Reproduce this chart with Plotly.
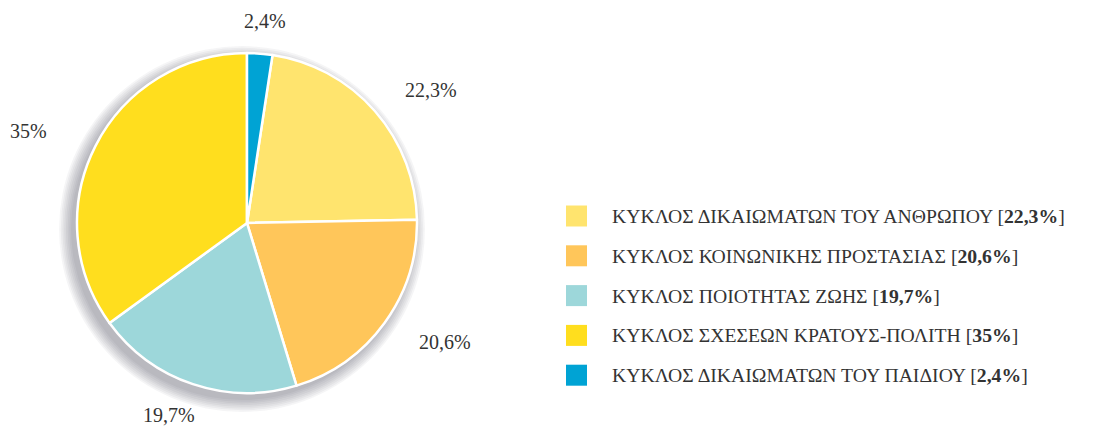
import math
import plotly.graph_objects as go

# ── DATA ──
categories = [
    "ΚΥΚΛΟΣ ΔΙΚΑΙΩΜΑΤΩΝ ΤΟΥ ΑΝΘΡΩΠΟΥ",
    "ΚΥΚΛΟΣ ΚΟΙΝΩΝΙΚΗΣ ΠΡΟΣΤΑΣΙΑΣ",
    "ΚΥΚΛΟΣ ΠΟΙΟΤΗΤΑΣ ΖΩΗΣ",
    "ΚΥΚΛΟΣ ΣΧΕΣΕΩΝ ΚΡΑΤΟΥΣ-ΠΟΛΙΤΗ",
    "ΚΥΚΛΟΣ ΔΙΚΑΙΩΜΑΤΩΝ ΤΟΥ ΠΑΙΔΙΟΥ",
]
values = [22.3, 20.6, 19.7, 35, 2.4]
colors = ["#FFE46E", "#FFC65A", "#9DD7DA", "#FFDE1E", "#00A3D4"]

W, H = 1109, 430
CX, CY, R = 247, 223, 170  # pie centre / radius in px (from top-left)
FONT = "Liberation Serif, Times New Roman, serif"
TXT = "#333333"


def fmt(v):
    return f"{v:g}".replace(".", ",") + "%"


total = sum(values)
rotation = values[-1] / total * 360  # blue slice sits just right of 12 o'clock

fig = go.Figure(
    go.Pie(
        labels=categories,
        values=values,
        sort=False,
        direction="clockwise",
        rotation=rotation,
        marker=dict(colors=colors, line=dict(color="white", width=2.5)),
        textinfo="none",
        hoverinfo="label+percent",
        showlegend=False,
        domain=dict(
            x=[(CX - R) / W, (CX + R) / W],
            y=[(H - CY - R) / H, (H - CY + R) / H],
        ),
    )
)

# soft drop shadow (down-left)
shapes = []
for i in range(8):
    rr = R + 1 + i * 1.7
    ox, oy = CX - 5, CY + 6
    shapes.append(dict(
        type="circle", xref="paper", yref="paper", layer="below",
        x0=(ox - rr) / W, x1=(ox + rr) / W,
        y0=(H - oy - rr) / H, y1=(H - oy + rr) / H,
        fillcolor="rgba(60,60,70,0.05)", line=dict(width=0),
    ))

# percentage labels on a wide ellipse around the pie, at each slice's mid-angle
annotations = []
start = rotation
for v in values:
    theta = math.radians(start + v / total * 180)
    start += v / total * 360
    lx = CX + 1.44 * R * math.sin(theta)
    ly = CY - 1.19 * R * math.cos(theta)
    annotations.append(dict(
        x=lx / W, y=(H - ly) / H, xref="paper", yref="paper",
        text=fmt(v), showarrow=False, xanchor="center", yanchor="middle",
        font=dict(family=FONT, size=20, color=TXT),
    ))

# legend (drawn manually to match large square swatches)
LEG_X, LEG_Y0, LEG_DY, SW = 566, 216, 39.8, 21
for i, (cat, v, col) in enumerate(zip(categories, values, colors)):
    yc = LEG_Y0 + i * LEG_DY
    shapes.append(dict(
        type="rect", xref="paper", yref="paper",
        x0=LEG_X / W, x1=(LEG_X + SW) / W,
        y0=(H - yc - SW / 2) / H, y1=(H - yc + SW / 2) / H,
        fillcolor=col, line=dict(width=0),
    ))
    annotations.append(dict(
        x=610 / W, y=(H - yc) / H, xref="paper", yref="paper",
        text=f"{cat} [<b>{fmt(v)}</b>]", showarrow=False,
        xanchor="left", yanchor="middle",
        font=dict(family=FONT, size=19.7, color=TXT),
    ))

fig.update_layout(
    width=W, height=H,
    margin=dict(l=0, r=0, t=0, b=0),
    paper_bgcolor="white", plot_bgcolor="white",
    shapes=shapes, annotations=annotations,
)

# drop the browser's default 8px body margin so the figure fills the window
fig.write_html(
    "out.html",
    config={"displayModeBar": False},
    post_script="document.body.style.margin='0px';",
)
